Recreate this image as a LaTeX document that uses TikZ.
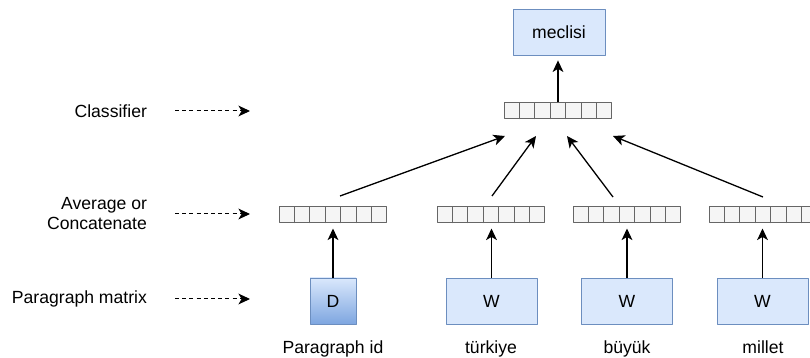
\documentclass[tikz,border=0pt]{standalone}
\usepackage{fontspec}
\setmainfont{Liberation Sans}
\usetikzlibrary{calc,arrows.meta}
\definecolor{boxfill}{HTML}{DAE8FC}
\definecolor{boxline}{HTML}{6C8EBF}
\definecolor{boxdark}{HTML}{7EA6E0}
\definecolor{cellfill}{HTML}{F5F5F5}
\definecolor{cellline}{HTML}{666666}
\begin{document}
\begin{tikzpicture}[x=0.5pt, y=-0.5pt, font=\fontsize{8.8}{10}\selectfont, line join=round,
		>={Stealth[length=5.8pt, width=5.4pt, inset=1.6pt]},
		wbox/.style={draw=boxline, fill=boxfill, minimum width=45.5pt, minimum height=23pt, inner sep=0pt},
		dbox/.style={draw=boxline, top color=boxfill, bottom color=boxdark, minimum width=23pt, minimum height=23pt, inner sep=0pt},
		vec/.style={draw=cellline, fill=cellfill, line width=0.5pt, minimum width=53.5pt, minimum height=8pt, inner sep=0pt},
		lbl/.style={align=right, anchor=east},
		word/.style={anchor=base},
		hint/.style={->, dash pattern=on 2pt off 1.6pt, line width=0.5pt, shorten <=10.5pt},
		link/.style={->, line width=0.65pt}]
		\useasboundingbox (0,0) rectangle (810,358);
		% output and classifier
		\node[wbox, minimum width=46pt] (out) at (559,32) {meclisi};
		\node[vec] (cls) at (558,111) {};
		% averaged vectors
		\node[vec] (v1) at (333,215) {};
		\node[vec] (v2) at (491,215) {};
		\node[vec] (v3) at (627,215) {};
		\node[vec] (v4) at (763,215) {};
		\foreach \v in {cls,v1,v2,v3,v4}
		\foreach \i in {1,...,6}
		\draw[cellline, line width=0.5pt] ($(\v.south west)!\i/7!(\v.south east)$) -- ($(\v.north west)!\i/7!(\v.north east)$);
		% inputs
		\node[dbox] (d) at (333,301) {D};
		\node[wbox] (w1) at (491.5,301) {W};
		\node[wbox] (w2) at (627,301) {W};
		\node[wbox] (w3) at (762.5,301) {W};
		\node[word] (pid) at (333,353) {Paragraph id};
		\node[word] (t1) at (491,353) {türkiye};
		\node[word] (t2) at (627,353) {büyük};
		\node[word] (t3) at (763,353) {millet};
		% row labels
		\node[lbl] (lc) at (154,111) {Classifier};
		\node[lbl] (la) at (154,214) {Average or\\Concatenate};
		\node[lbl] (lp) at (154,299) {Paragraph matrix};
		\coordinate (hc) at (250,111);
		\coordinate (ha) at (250,214);
		\coordinate (hp) at (250,299);
		\draw[hint] (lc.east) -- (hc);
		\draw[hint] (la.east) -- (ha);
		\draw[hint] (lp.east) -- (hp);
		% connectors
		\draw[link, shorten >=2.5pt] (d) -- (v1);
		\draw[link, shorten >=2.5pt] (w1.north) -- (w1.north |- v2.south);
		\draw[link, shorten >=2.5pt] (w2) -- (v3);
		\draw[link, shorten >=2.5pt] (w3.north) -- (w3.north |- v4.south);
		\draw[link, shorten >=2.5pt] (cls.north) -- (cls.north |- out.south);
		\coordinate (s1) at (340,196); \coordinate (e1) at (505,136);
		\coordinate (s2) at (492,196); \coordinate (e2) at (536,136);
		\coordinate (s3) at (613,197); \coordinate (e3) at (567,136);
		\coordinate (s4) at (763,197); \coordinate (e4) at (613,136);
		\foreach \k in {1,...,4}
		\draw[link] (s\k) -- (e\k);
\end{tikzpicture}
\end{document}
